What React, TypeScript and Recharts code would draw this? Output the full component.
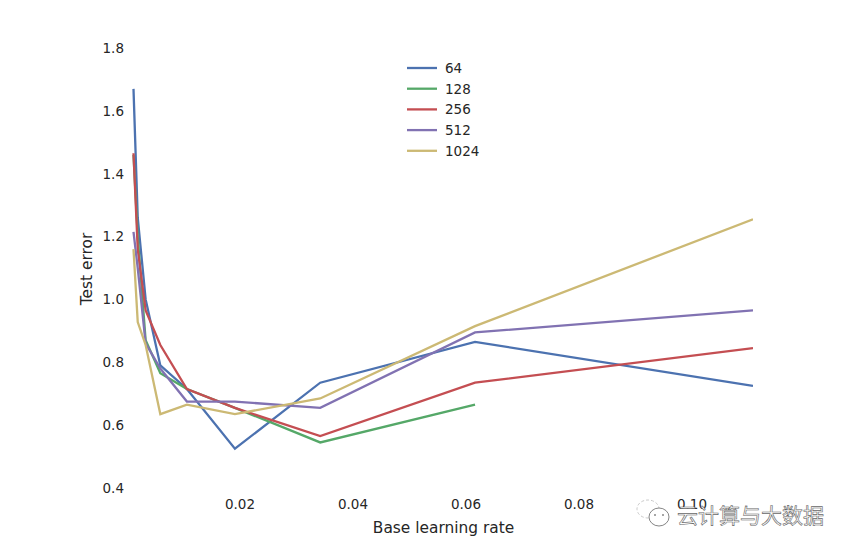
import { LineChart, Line, XAxis, YAxis, Legend } from "recharts";

const learningRates = [0.00115, 0.0019, 0.0033, 0.0059, 0.0106, 0.0191, 0.0342, 0.0616, 0.1108];
const errors64 = [1.67, 1.26, 1.0, 0.79, 0.715, 0.525, 0.735, 0.865, 0.725];
const errors128 = [1.46, 1.2, 0.87, 0.765, 0.715, 0.655, 0.545, 0.665, null];
const errors256 = [1.465, 1.16, 0.965, 0.855, 0.715, 0.655, 0.565, 0.735, 0.845];
const errors512 = [1.215, 1.1, 0.86, 0.78, 0.675, 0.675, 0.655, 0.895, 0.965];
const errors1024 = [1.16, 0.928, 0.855, 0.635, 0.665, 0.635, 0.685, 0.915, 1.255];

const xTicks = [0.02, 0.04, 0.06, 0.08, 0.1];
const yTicks = [0.4, 0.6, 0.8, 1.0, 1.2, 1.4, 1.6, 1.8];

const seriesNames = ["64", "128", "256", "512", "1024"];
const seriesColors = ["#4C72B0", "#55A868", "#C44E52", "#8172B2", "#CCB974"];

const data = learningRates.map((rate, i) => ({
  rate,
  "64": errors64[i],
  "128": errors128[i],
  "256": errors256[i],
  "512": errors512[i],
  "1024": errors1024[i],
}));

const FONT = "'DejaVu Sans', sans-serif";
const TEXT = "#262626";

function LegendBox() {
  return (
    <svg width={90} height={105} style={{ display: "block" }}>
      {seriesNames.map((name, i) => {
        const y = 10 + i * 20.7;
        return (
          <g key={name}>
            <line x1={0} x2={30} y1={y} y2={y} stroke={seriesColors[i]} strokeWidth={2.3} />
            <text x={38} y={y + 5} fontSize={13.5} fontFamily={FONT} fill={TEXT}>
              {name}
            </text>
          </g>
        );
      })}
    </svg>
  );
}

function Watermark() {
  return (
    <div style={{ position: "absolute", left: 636, top: 498, width: 200, height: 34 }}>
      <svg width={36} height={32} style={{ position: "absolute", left: 0, top: 0 }}>
        <ellipse cx={12} cy={11} rx={11} ry={9} fill="#fff" stroke="#bbb" strokeWidth={0.8} strokeDasharray="3 2" />
        <ellipse cx={23} cy={19} rx={10} ry={9} fill="#fff" stroke="#777" strokeWidth={0.9} />
        <circle cx={19} cy={17} r={1} fill="#888" />
        <circle cx={27} cy={17} r={1} fill="#888" />
      </svg>
      <span
        style={{
          position: "absolute",
          left: 41,
          top: 2,
          fontFamily: "'Noto Sans CJK SC', sans-serif",
          fontSize: 21,
          lineHeight: "28px",
          whiteSpace: "nowrap",
          color: "#fff",
          WebkitTextStroke: "0.6px #666",
        }}
      >
        云计算与大数据
      </span>
    </div>
  );
}

export default function App() {
  return (
    <div style={{ position: "absolute", left: 0, top: 0, width: 851, height: 552, background: "#fff", overflow: "hidden" }}>
      <LineChart width={851} height={552} data={data} margin={{ top: 48, right: 98, bottom: 0, left: 77 }}>
        <XAxis
          type="number"
          dataKey="rate"
          domain={[0, 0.1108]}
          ticks={xTicks}
          tickFormatter={(v: number) => v.toFixed(2)}
          axisLine={false}
          tickLine={false}
          tick={{ fill: TEXT, fontSize: 13.5, fontFamily: FONT }}
          tickMargin={5}
          height={64}
          allowDataOverflow
          label={{ value: "Base learning rate", position: "insideBottom", offset: 19, dx: 3.5, fill: TEXT, fontSize: 15.4, fontFamily: FONT }}
        />
        <YAxis
          type="number"
          domain={[0.4, 1.8]}
          ticks={yTicks}
          tickFormatter={(v: number) => v.toFixed(1)}
          axisLine={false}
          tickLine={false}
          tickSize={0}
          tick={{ fill: TEXT, fontSize: 13.5, fontFamily: FONT }}
          tickMargin={3}
          width={50}
          label={{ value: "Test error", angle: -90, position: "insideLeft", offset: 10, dy: 1, fill: TEXT, fontSize: 15.4, fontFamily: FONT, style: { textAnchor: "middle" } }}
        />
        <Legend
          align="center"
          verticalAlign="middle"
          layout="vertical"
          content={<LegendBox />}
          wrapperStyle={{ position: "absolute", left: 407, top: 58, width: 90, height: 105 }}
        />
        {seriesNames.map((name, i) => (
          <Line
            key={name}
            type="linear"
            dataKey={name}
            stroke={seriesColors[i]}
            strokeWidth={2.3}
            dot={false}
            connectNulls={false}
            isAnimationActive={false}
          />
        ))}
      </LineChart>
      <Watermark />
    </div>
  );
}
